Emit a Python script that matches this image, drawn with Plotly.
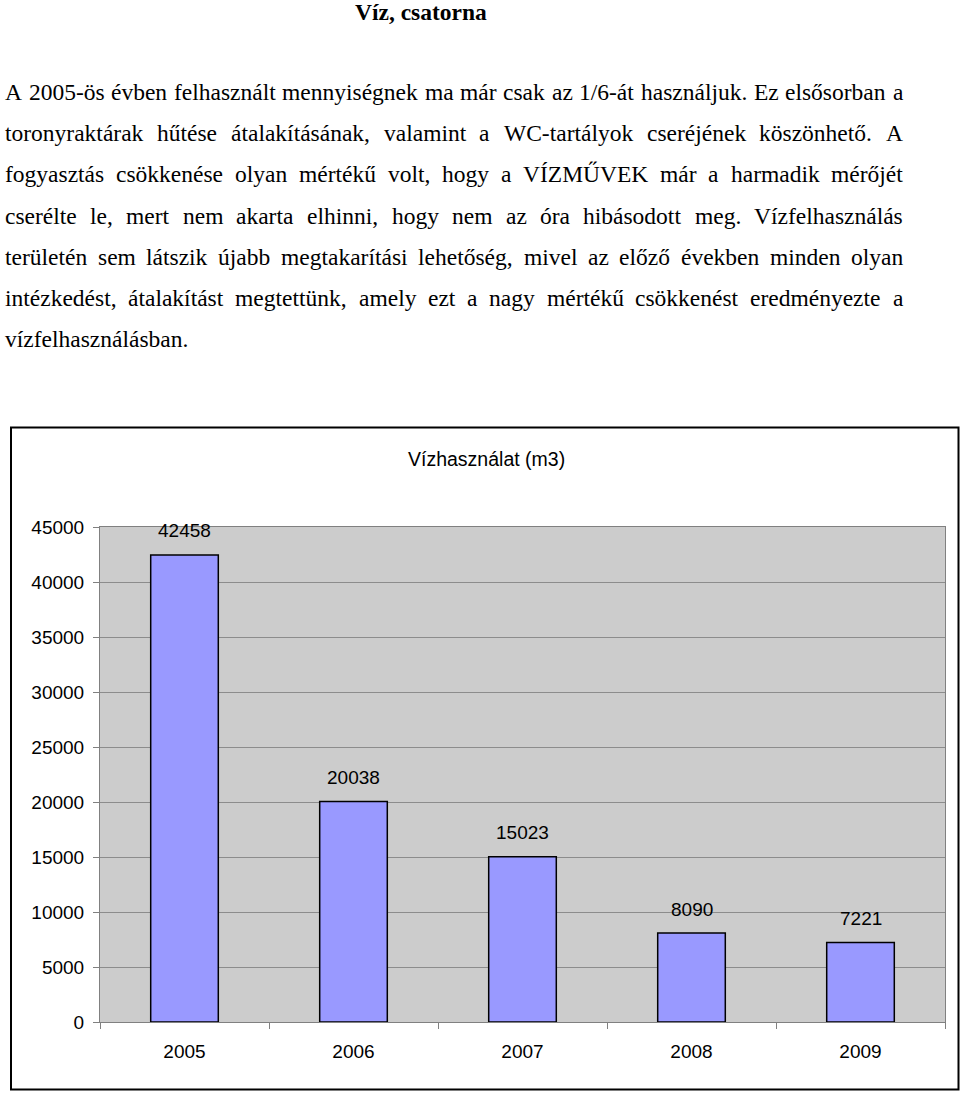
import plotly.graph_objects as go

# ---- data ----
years = ["2005", "2006", "2007", "2008", "2009"]
usage = [42458, 20038, 15023, 8090, 7221]
y_ticks = [0, 5000, 10000, 15000, 20000, 25000, 30000, 35000, 40000, 45000]
chart_title = "Vízhasználat (m3)"
heading = "Víz, csatorna"
para_lines = [
    "A 2005-ös évben felhasznált mennyiségnek ma már csak az 1/6-át használjuk. Ez elsősorban a",
    "toronyraktárak hűtése átalakításának, valamint a WC-tartályok cseréjének köszönhető. A",
    "fogyasztás csökkenése olyan mértékű volt, hogy a VÍZMŰVEK már a harmadik mérőjét",
    "cserélte le, mert nem akarta elhinni, hogy nem az óra hibásodott meg. Vízfelhasználás",
    "területén sem látszik újabb megtakarítási lehetőség, mivel az előző években minden olyan",
    "intézkedést, átalakítást megtettünk, amely ezt a nagy mértékű csökkenést eredményezte a",
    "vízfelhasználásban.",
]

W, H = 960, 1093
def px(x):
    return x / W
def py(y):
    return 1 - y / H

# Times / Liberation Serif advance widths (1/1000 em)
TW = {' ': 250, ',': 250, '-': 333, '.': 250, '/': 278, '(': 333, ')': 333}
for d in "0123456789":
    TW[d] = 500
TW.update(dict(A=722, B=667, C=667, D=722, E=611, F=556, G=722, H=722, I=333, J=389,
               K=722, L=611, M=889, N=722, O=722, P=556, Q=722, R=667, S=556, T=611,
               U=722, V=722, W=944, X=722, Y=722, Z=611))
TW.update(dict(a=444, b=500, c=444, d=500, e=444, f=333, g=500, h=500, i=278, j=278,
               k=500, l=278, m=778, n=500, o=500, p=500, q=500, r=333, s=389, t=278,
               u=500, v=500, w=722, x=500, y=500, z=444))
TW.update({'á': 444, 'é': 444, 'í': 278, 'ó': 500, 'ö': 500, 'ő': 500, 'ú': 500,
           'ü': 500, 'ű': 500, 'Í': 333, 'Ű': 722, 'É': 611, 'Ö': 722, 'Ü': 722})

FS = 23.5
def wwidth(word):
    return sum(TW.get(ch, 500) for ch in word) * FS / 1000.0

fig = go.Figure()
fig.add_trace(go.Bar(
    x=years, y=usage, width=0.4,
    marker=dict(color="#9999ff", line=dict(color="black", width=1.5)),
    hoverinfo="x+y",
))

annotations = []
# heading
annotations.append(dict(xref="paper", yref="paper", x=px(421), y=py(12),
                        text="<b>" + heading + "</b>",
                        showarrow=False, xanchor="center", yanchor="middle",
                        font=dict(family="Liberation Serif", size=FS, color="black")))

# justified paragraph
left, right = 5, 903
line_y0, line_dy = 92, 41.2
for i, line in enumerate(para_lines):
    words = line.split()
    yline = line_y0 + i * line_dy
    widths = [wwidth(w) for w in words]
    last = (i == len(para_lines) - 1)
    if last or len(words) == 1:
        gap = TW[' '] * FS / 1000.0
    else:
        gap = (right - left - sum(widths)) / (len(words) - 1)
    x = left
    for w, wd in zip(words, widths):
        annotations.append(dict(xref="paper", yref="paper", x=px(x - 2), y=py(yline), text=w,
                                showarrow=False, xanchor="left", yanchor="middle",
                                font=dict(family="Liberation Serif", size=FS, color="black")))
        x += wd + gap

# chart title
annotations.append(dict(xref="paper", yref="paper", x=px(486), y=py(459), text=chart_title,
                        showarrow=False, xanchor="center", yanchor="middle",
                        font=dict(family="Liberation Sans", size=19.5, color="black")))

# value labels (x given as category index)
for i, v in enumerate(usage):
    annotations.append(dict(xref="x", yref="y", x=i, y=v, text=str(v), showarrow=False,
                            yanchor="middle", yshift=24,
                            font=dict(family="Liberation Sans", size=19, color="black")))

shapes = [dict(type="rect", xref="paper", yref="paper", x0=px(11), x1=px(958.5),
               y0=py(1089.5), y1=py(427.5), line=dict(color="black", width=2),
               fillcolor="rgba(0,0,0,0)", layer="below")]

fig.update_layout(
    width=W, height=H, margin=dict(l=0, r=0, t=0, b=0, autoexpand=False),
    paper_bgcolor="white", plot_bgcolor="#cccccc",
    showlegend=False, bargap=0.6,
    annotations=annotations, shapes=shapes,
    xaxis=dict(domain=[px(100), px(945)], type="category", range=[-0.5, 4.5],
               tickson="boundaries", ticks="outside", ticklen=6, tickcolor="#808080",
               showline=True, linecolor="#808080", linewidth=1, mirror=True,
               showgrid=False, ticklabelstandoff=12, automargin=False,
               tickfont=dict(family="Liberation Sans", size=19, color="black")),
    yaxis=dict(domain=[py(1022), py(527)], range=[0, 45000], tickvals=y_ticks,
               tickformat="d", automargin=False,
               ticks="outside", ticklen=6, tickcolor="#808080",
               showline=True, linecolor="#808080", linewidth=1, mirror=True,
               showgrid=True, gridcolor="#8c8c8c", gridwidth=1, zeroline=False,
               ticklabelstandoff=5,
               tickfont=dict(family="Liberation Sans", size=19, color="black")),
)

fig.write_html("out.html", config={"displayModeBar": False},
               post_script="document.body.style.margin='0';document.body.style.overflow='hidden';")
